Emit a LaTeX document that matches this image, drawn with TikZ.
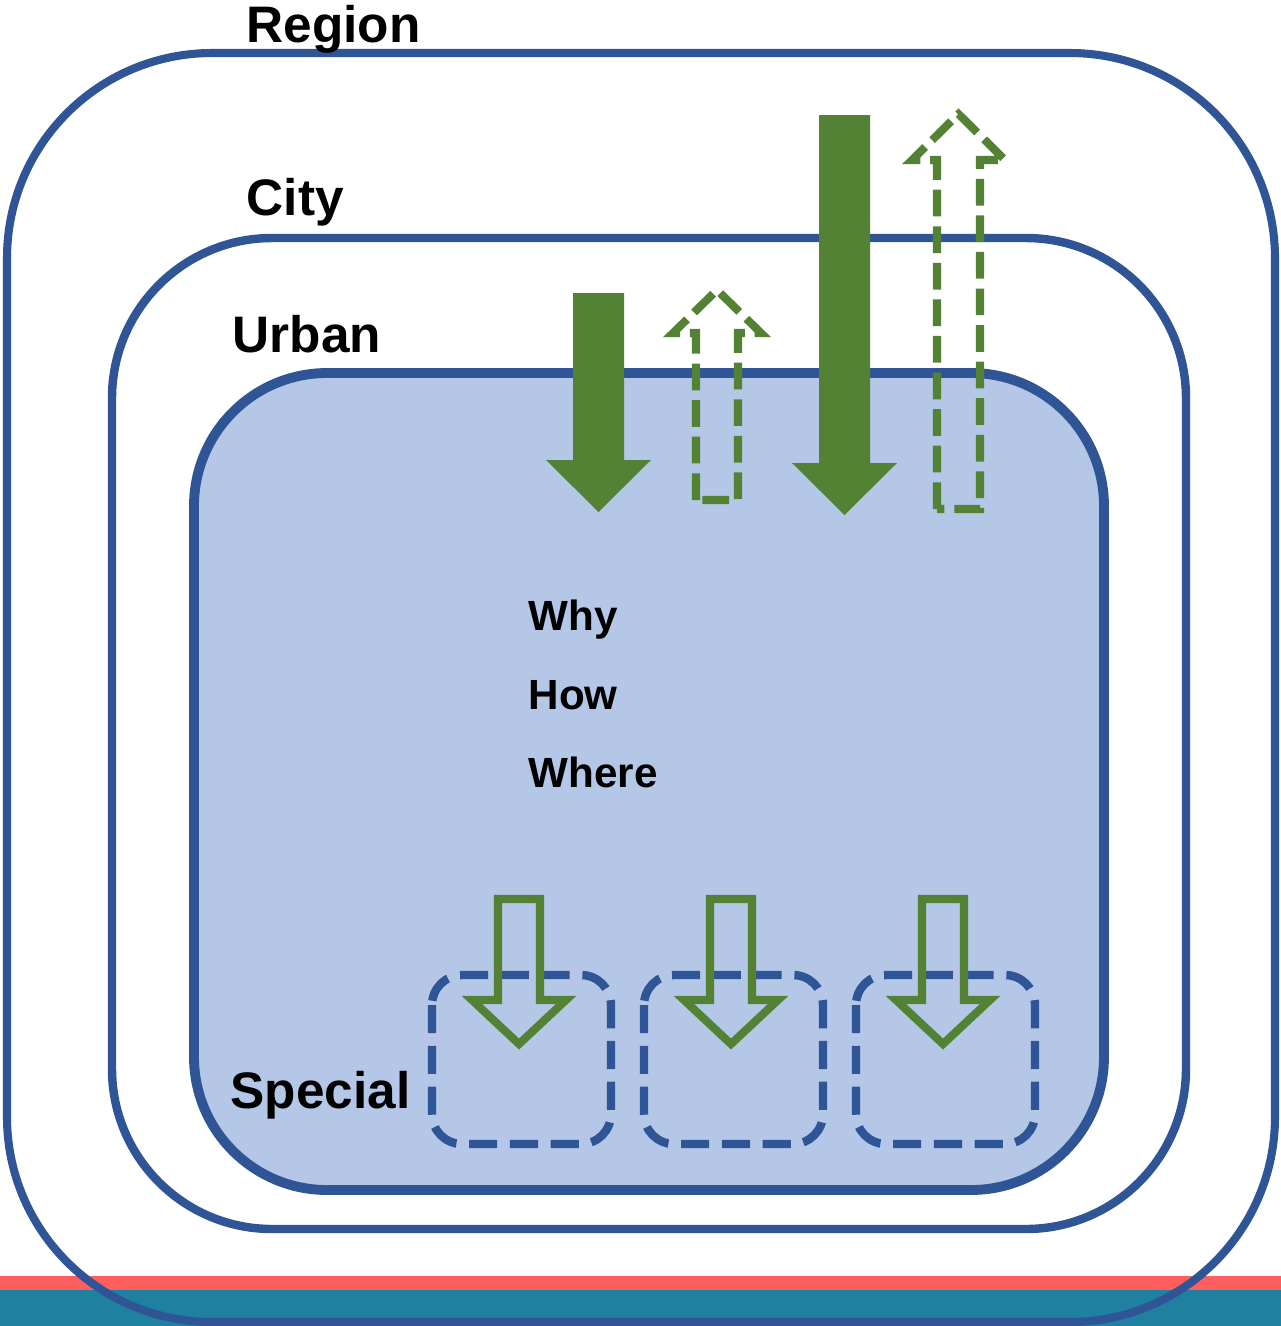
\documentclass[tikz,border=0pt]{standalone}
\usepackage{fontspec}
\setmainfont{Liberation Sans}
\definecolor{zoneblue}{HTML}{2F5597}
\definecolor{zonefill}{HTML}{B4C7E7}
\definecolor{flowgreen}{HTML}{548235}
\definecolor{stripred}{HTML}{FF5E5E}
\definecolor{stripteal}{HTML}{1F80A0}

\begin{document}
\begin{tikzpicture}[x=0.01cm,y=-0.01cm,
  zone/.style={draw=zoneblue,line width=2.3pt},
  special/.style={draw=zoneblue,line width=2.4pt,dash pattern=on 8pt off 3.6pt,rounded corners=0.3cm},
  flowsolid/.style={fill=flowgreen},
  flowdash/.style={draw=flowgreen,line width=2.3pt,dash pattern=on 7.6pt off 2.8pt},
  flowout/.style={draw=flowgreen,line width=2.3pt},
  zonetag/.style={anchor=base west,inner sep=0pt,font=\fontsize{14.6}{17}\selectfont\bfseries},
  asktag/.style={anchor=base west,inner sep=0pt,font=\fontsize{12}{14}\selectfont\bfseries}]

  \useasboundingbox (0,0) rectangle (1281,1326);

  % Strip
  \fill[stripteal] (0,1290) rectangle (1281,1326);
  \fill[stripred] (0,1276) rectangle (1281,1290);

  % Zones
  \draw[zone,rounded corners=2.05cm] (7,53) rectangle (1275,1322);
  \draw[zone,line width=2.4pt,rounded corners=1.6cm] (112,238) rectangle (1186,1229);
  \draw[zone,fill=zonefill,line width=2.8pt,rounded corners=1.33cm] (194,373) rectangle (1104,1190);

  % Flows in and out of urban
  \fill[flowsolid] (573,293) -- (624,293) -- (624,460) -- (651,460) -- (598.5,512) -- (546,460) -- (573,460) -- cycle;
  \draw[flowdash] (696,500) -- (696,333) -- (673,333) -- (717,290) -- (761,333) -- (738,333) -- (738,500) -- cycle;

  % Flows in and out of city
  \fill[flowsolid] (819,115) -- (870,115) -- (870,463) -- (897,463) -- (844.5,515) -- (792,463) -- (819,463) -- cycle;
  \draw[flowdash] (937,509) -- (937,160) -- (912,160) -- (958.5,114) -- (1005,160) -- (980,160) -- (980,509) -- cycle;

  % Special areas
  \foreach \dx in {0,212,424} {
    \draw[special] (432+\dx,975) rectangle (611+\dx,1144);
    \draw[flowout] (498+\dx,899) -- (540+\dx,899) -- (540+\dx,1000) -- (566+\dx,1000) -- (519+\dx,1044) -- (472+\dx,1000) -- (498+\dx,1000) -- cycle;
  }

  % Labels
  \node[zonetag] (region) at (246,42) {Region};
  \node[zonetag] (city) at (246,215) {City};
  \node[zonetag] (urban) at (232,352) {Urban};
  \node[zonetag] (special) at (230,1108) {Special};
  \node[asktag] (why) at (528,630) {Why};
  \node[asktag] (how) at (528,709) {How};
  \node[asktag] (where) at (528,787) {Where};
\end{tikzpicture}
\end{document}
